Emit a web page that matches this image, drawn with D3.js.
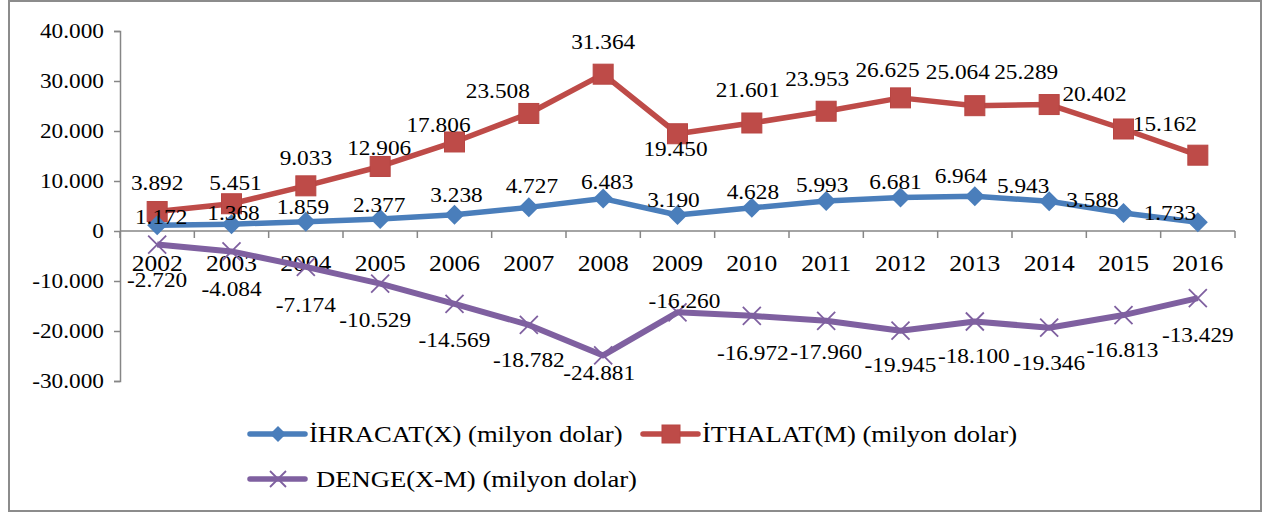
<!DOCTYPE html>
<html>
<head>
<meta charset="utf-8">
<script src="https://cdn.jsdelivr.net/npm/d3@7"></script>
<style>
	html, body { margin: 0; padding: 0; background: #fff; }
	svg { display: block; }
	text { font-family: "Liberation Serif", "Times New Roman", serif; fill: #000; }
</style>
</head>
<body>
<svg width="1264" height="513"></svg>
<script>
var years = ["2002", "2003", "2004", "2005", "2006", "2007", "2008", "2009", "2010", "2011", "2012", "2013", "2014", "2015", "2016"];
var ihracat = [1172, 1368, 1859, 2377, 3238, 4727, 6483, 3190, 4628, 5993, 6681, 6964, 5943, 3588, 1733];
var ithalat = [3892, 5451, 9033, 12906, 17806, 23508, 31364, 19450, 21601, 23953, 26625, 25064, 25289, 20402, 15162];
var denge = [-2720, -4084, -7174, -10529, -14569, -18782, -24881, -16260, -16972, -17960, -19945, -18100, -19346, -16813, -13429];
var yTicks = [-30000, -20000, -10000, 0, 10000, 20000, 30000, 40000];
var seriesNames = ["İHRACAT(X) (milyon dolar)", "İTHALAT(M) (milyon dolar)", "DENGE(X-M) (milyon dolar)"];

// hand-moved data labels in the original, offset from each point [dx, dy]
var offIhr = [[4,-8],[2,-12],[-3,-15],[-1,-14],[2,-20],[3,-22],[4,-17],[-4,-15],[1,-16],[-4,-16],[-5,-16],[-14,-21],[-26,-16],[-31,-13],[-28,-10]];
var offIth = [[0,-29],[4,-21],[0,-28],[-1,-19],[-16,-17],[-31,-23],[0,-33],[-2,15],[-4,-33],[-9,-33],[-13,-28],[-17,-34],[-23,-33],[-29,-35],[-33,-32]];
var offDen = [[0,35],[0,37],[0,38],[-5,36],[0,36],[0,35],[-4,17],[7,-12],[1,37],[0,31],[0,34],[-1,34],[0,35],[-1,35],[0,37]];

var SX = 1.11; // text in the source is stretched horizontally
var fmt = function (v) {
	var s = d3.format(",")(Math.abs(v)).replace(/,/g, ".");
	return (v < 0 ? "-" : "") + s;
};

var svg = d3.select("svg");

// outer chart border
svg.append("rect")
	.attr("x", 9).attr("y", 1).attr("width", 1252).attr("height", 510)
	.attr("fill", "none").attr("stroke", "#8c8c8c").attr("stroke-width", 2);

var x = d3.scaleBand().domain(years).range([120, 1235]);
var y = d3.scaleLinear().domain([-30000, 40000]).range([381, 31]);
var cx = function (d, i) { return x(years[i]) + x.bandwidth() / 2; };

function stext(g, tx, ty, str, size, anchor) {
	return g.append("text")
		.attr("transform", "translate(" + tx + "," + ty + ") scale(" + SX + ",1)")
		.attr("dy", "0.35em")
		.attr("text-anchor", anchor || "middle")
		.attr("font-size", size)
		.text(str);
}

// y axis
var yAxis = svg.append("g")
	.attr("transform", "translate(120,0)")
	.call(d3.axisLeft(y).tickValues(yTicks).tickSize(6).tickFormat(""));
yAxis.select(".domain").attr("stroke", "#868686").attr("stroke-width", 1.5);
yAxis.selectAll(".tick line").attr("stroke", "#868686").attr("stroke-width", 1.5);
yTicks.forEach(function (t) {
	stext(svg, 104, y(t), fmt(t), 21, "end");
});

// x axis on the zero line, ticks between categories
var xg = svg.append("g");
xg.append("line")
	.attr("x1", 120).attr("x2", 1235).attr("y1", y(0)).attr("y2", y(0))
	.attr("stroke", "#868686").attr("stroke-width", 1.5);
xg.selectAll("line.tk")
	.data(d3.range(years.length + 1))
	.enter().append("line")
	.attr("class", "tk")
	.attr("x1", function (i) { return 120 + i * x.step(); })
	.attr("x2", function (i) { return 120 + i * x.step(); })
	.attr("y1", y(0)).attr("y2", y(0) + 7)
	.attr("stroke", "#868686").attr("stroke-width", 1.5);
years.forEach(function (yr, i) {
	stext(svg, cx(null, i), 263, yr, 23);
});

var line = d3.line()
	.x(cx)
	.y(function (d) { return y(d); });

var colors = ["#4A7EBB", "#BE4B48", "#7F60A0"];

function diamond(g, px, py, r, col) {
	g.append("path")
		.attr("d", "M" + px + "," + (py - r) + "L" + (px + r) + "," + py + "L" + px + "," + (py + r) + "L" + (px - r) + "," + py + "Z")
		.attr("fill", col);
}
function square(g, px, py, r, col) {
	g.append("rect").attr("x", px - r).attr("y", py - r).attr("width", 2 * r).attr("height", 2 * r)
		.attr("fill", col).attr("stroke", "#B84643").attr("stroke-width", 1);
}
function cross(g, px, py, r, col) {
	g.append("path")
		.attr("d", "M" + (px - r) + "," + (py - r) + "L" + (px + r) + "," + (py + r) + "M" + (px - r) + "," + (py + r) + "L" + (px + r) + "," + (py - r))
		.attr("stroke", col).attr("stroke-width", 1.8).attr("fill", "none");
}

// DENGE
var gD = svg.append("g");
gD.append("path").datum(denge).attr("d", line)
	.attr("fill", "none").attr("stroke", colors[2]).attr("stroke-width", 6).attr("stroke-linejoin", "round");
denge.forEach(function (v, i) { cross(gD, cx(v, i), y(v), 9, colors[2]); });

// ITHALAT
var gM = svg.append("g");
gM.append("path").datum(ithalat).attr("d", line)
	.attr("fill", "none").attr("stroke", colors[1]).attr("stroke-width", 5.5).attr("stroke-linejoin", "round");
ithalat.forEach(function (v, i) { square(gM, cx(v, i), y(v), 10, colors[1]); });

// IHRACAT
var gX = svg.append("g");
gX.append("path").datum(ihracat).attr("d", line)
	.attr("fill", "none").attr("stroke", colors[0]).attr("stroke-width", 5.5).attr("stroke-linejoin", "round");
ihracat.forEach(function (v, i) { diamond(gX, cx(v, i), y(v), 10, colors[0]); });

// data labels
var gL = svg.append("g");
[[ihracat, offIhr], [ithalat, offIth], [denge, offDen]].forEach(function (s) {
	s[0].forEach(function (v, i) {
		stext(gL, cx(v, i) + s[1][i][0], y(v) + s[1][i][1], fmt(v), 21);
	});
});

// legend
var lg = svg.append("g");
var legendItems = [
	{ x: 250, y: 434, tx: 309, mark: diamond, r: 8 },
	{ x: 643, y: 434, tx: 702, mark: square, r: 9 },
	{ x: 250, y: 479, tx: 316, mark: cross, r: 8 }
];
legendItems.forEach(function (it, i) {
	lg.append("line")
		.attr("x1", it.x).attr("x2", it.x + 55).attr("y1", it.y).attr("y2", it.y)
		.attr("stroke", colors[i]).attr("stroke-width", 5.5).attr("stroke-linecap", "round");
	it.mark(lg, it.x + 28, it.y, it.r, colors[i]);
	stext(lg, it.tx, it.y, seriesNames[i], 24, "start");
});
</script>
</body>
</html>
